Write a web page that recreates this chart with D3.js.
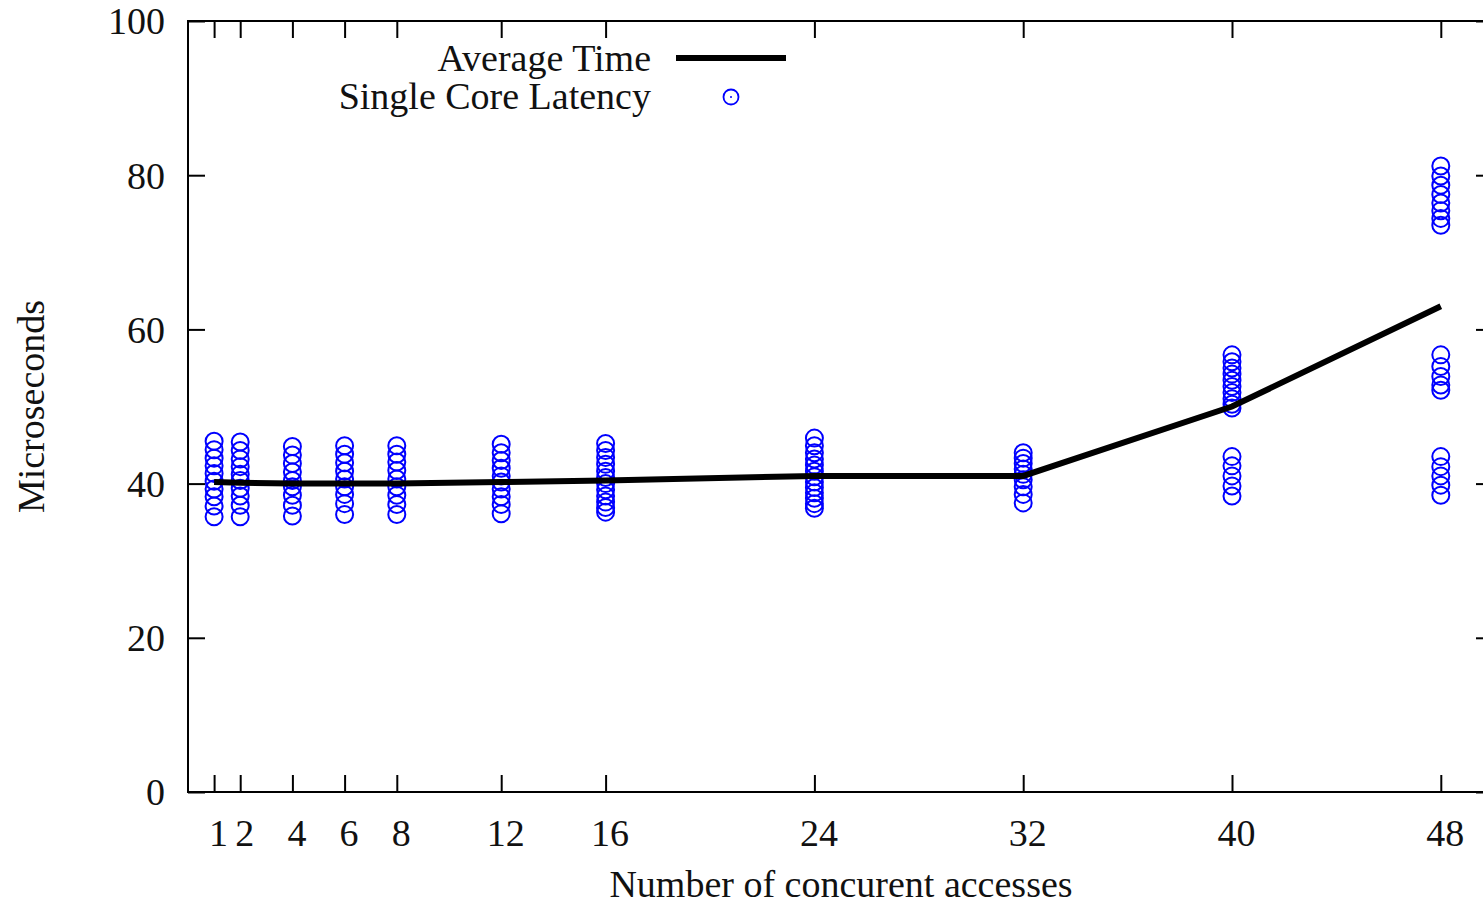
<!DOCTYPE html>
<html>
<head>
<meta charset="utf-8">
<script src="https://cdn.jsdelivr.net/npm/d3@7"></script>
<style>
  body { margin: 0; background: #fff; }
  text { font-family: "Liberation Serif", "Times New Roman", serif; fill: #111; }
</style>
</head>
<body>
<svg id="chart" width="1483" height="907"></svg>
<script>
// data
const accesses = [1, 2, 4, 6, 8, 12, 16, 24, 32, 40, 48];
const avgTime = [40.2, 40.1, 40.0, 40.0, 40.0, 40.2, 40.4, 41.0, 41.0, 50.0, 63.0];
// single core latency samples, one list per x value
const lat1 = [45.5, 44.4, 43.3, 42.3, 41.3, 40.3, 39.3, 38.3, 37.1, 35.7];
const lat2 = [45.4, 44.3, 43.2, 42.2, 41.2, 40.4, 39.4, 38.4, 37.2, 35.7];
const lat4 = [44.8, 43.7, 42.6, 41.5, 40.4, 39.6, 38.5, 37.2, 35.8];
const lat6 = [44.9, 43.8, 42.7, 41.6, 40.6, 39.6, 38.6, 37.4, 36.0];
const lat8 = [44.9, 43.8, 42.8, 41.7, 40.6, 39.6, 38.5, 37.3, 36.0];
const lat12 = [45.1, 44.0, 43.0, 42.0, 41.0, 40.2, 39.3, 38.3, 37.3, 36.1];
const lat16 = [45.2, 44.3, 43.4, 42.5, 41.6, 40.8, 40.0, 39.2, 38.4, 37.6, 36.9, 36.3];
const lat24 = [45.9, 44.9, 44.0, 43.2, 42.4, 41.6, 40.9, 40.2, 39.5, 38.8, 38.1, 37.4, 36.8];
const lat32 = [44.0, 43.3, 42.6, 41.9, 41.2, 40.5, 39.6, 38.6, 37.5];
const lat40 = [56.7, 55.8, 55.0, 54.2, 53.4, 52.6, 51.8, 51.0, 50.3, 49.8, 43.5, 42.3, 41.0, 39.7, 38.4];
const lat48 = [81.2, 79.9, 78.7, 77.5, 76.4, 75.4, 74.4, 73.5, 56.7, 55.2, 53.9, 52.8, 52.1, 43.5, 42.2, 41.0, 39.8, 38.5];
const latency = [lat1, lat2, lat4, lat6, lat8, lat12, lat16, lat24, lat32, lat40, lat48];
const yTicks = [0, 20, 40, 60, 80, 100];

const svg = d3.select("#chart");
const pLeft = 188, pTop = 21, pBottom = 792, pRight = 1493;
const tick = 17;
const fs = 38;

let x = d3.scaleLinear().domain([0, 50]).range([pLeft, pRight]);
let y = d3.scaleLinear().domain([0, 100]).range([pBottom, pTop]);

// frame
svg.append("rect")
  .attr("x", pLeft).attr("y", pTop)
  .attr("width", pRight - pLeft).attr("height", pBottom - pTop)
  .attr("fill", "none").attr("stroke", "#000").attr("stroke-width", 2);

// x axis: bottom with labels, top mirrored
let xb = svg.append("g").attr("transform", `translate(0,${pBottom})`)
  .call(d3.axisBottom(x).tickValues(accesses).tickSize(-tick).tickPadding(27));
let xt = svg.append("g").attr("transform", `translate(0,${pTop})`)
  .call(d3.axisTop(x).tickValues(accesses).tickSize(-tick).tickFormat(""));
// y axis: left with labels, right mirrored
let yl = svg.append("g").attr("transform", `translate(${pLeft},0)`)
  .call(d3.axisLeft(y).tickValues(yTicks).tickSize(-tick).tickPadding(23));
let yr = svg.append("g").attr("transform", `translate(${pRight},0)`)
  .call(d3.axisRight(y).tickValues(yTicks).tickSize(-tick).tickFormat(""));

[xb, xt, yl, yr].forEach(g => {
  g.select(".domain").remove();
  g.selectAll("line").attr("stroke", "#000").attr("stroke-width", 2);
  g.selectAll("text").attr("font-size", fs).attr("font-family", "Liberation Serif").attr("fill", "#111");
});
xb.selectAll("text").attr("dx", 4);
yl.selectAll("text").attr("dy", "0.34em");

// axis titles
svg.append("text")
  .attr("x", 841).attr("y", 897)
  .attr("text-anchor", "middle").attr("font-size", fs)
  .text("Number of concurent accesses");
svg.append("text")
  .attr("transform", `translate(44,${(pTop + pBottom) / 2}) rotate(-90)`)
  .attr("text-anchor", "middle").attr("font-size", fs)
  .text("Microseconds");

// scatter points
let pts = [];
accesses.forEach((a, i) => latency[i].forEach(v => pts.push({a: a, v: v})));

svg.append("g").selectAll("circle")
  .data(pts)
  .join("circle")
  .attr("cx", d => x(d.a))
  .attr("cy", d => y(d.v))
  .attr("r", 8.5)
  .attr("fill", "none")
  .attr("stroke", "#0000ff")
  .attr("stroke-width", 2);

// average line
let line = d3.line()
  .x((d, i) => x(accesses[i]))
  .y(d => y(d));
svg.append("path")
  .attr("d", line(avgTime))
  .attr("fill", "none")
  .attr("stroke", "#000")
  .attr("stroke-width", 6);

// legend
svg.append("text").attr("x", 651).attr("y", 71)
  .attr("text-anchor", "end").attr("font-size", fs).text("Average Time");
svg.append("line")
  .attr("x1", 676).attr("x2", 786).attr("y1", 58).attr("y2", 58)
  .attr("stroke", "#000").attr("stroke-width", 6);
svg.append("text").attr("x", 651).attr("y", 109)
  .attr("text-anchor", "end").attr("font-size", fs).text("Single Core Latency");
svg.append("circle").attr("cx", 731).attr("cy", 97).attr("r", 7.5)
  .attr("fill", "none").attr("stroke", "#0000ff").attr("stroke-width", 1.8);
svg.append("circle").attr("cx", 731).attr("cy", 97).attr("r", 1)
  .attr("fill", "#0000ff");
</script>
</body>
</html>
